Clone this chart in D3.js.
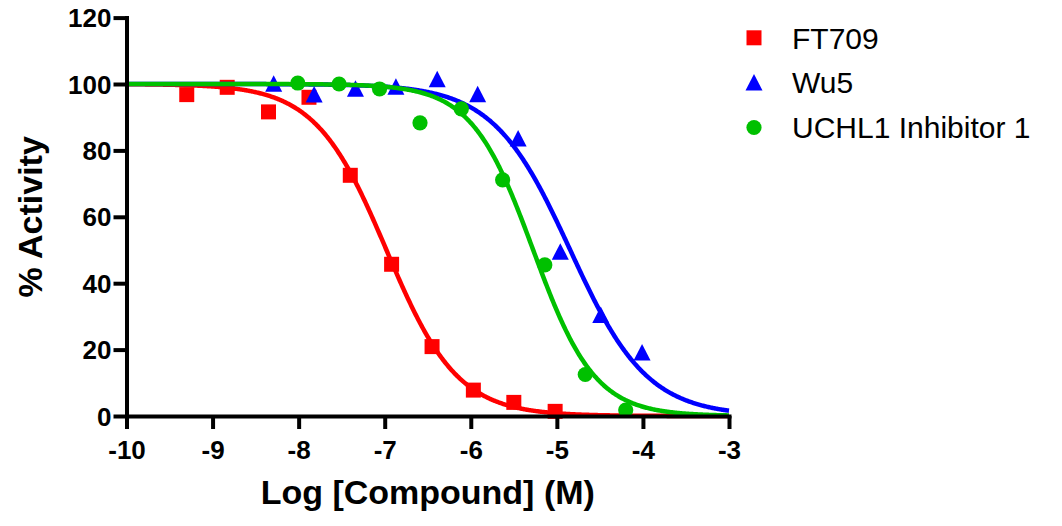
<!DOCTYPE html>
<html>
<head>
<meta charset="utf-8">
<script src="https://cdn.jsdelivr.net/npm/d3@7"></script>
<style>
  html, body { margin: 0; padding: 0; background: #fff; }
  svg { display: block; font-family: "Liberation Sans", Arial, Helvetica, sans-serif; }
</style>
</head>
<body>
<svg id="chart" width="1062" height="526"></svg>
<script>
// ---- Data ----
const seriesNames = ["FT709", "Wu5", "UCHL1 Inhibitor 1"];
const seriesColors = ["#FF0000", "#0000FF", "#00C000"];
const seriesShapes = ["square", "triangle", "circle"];

const ft709X = [-9.30, -8.83, -8.35, -7.88, -7.40, -6.92, -6.45, -5.97, -5.50, -5.02];
const ft709Y = [96.8, 99.0, 91.6, 96.0, 72.5, 45.7, 20.9, 7.8, 4.1, 1.4];
const wu5X = [-8.29, -7.82, -7.34, -6.87, -6.39, -5.92, -5.45, -4.96, -4.49, -4.01];
const wu5Y = [100.1, 96.8, 98.6, 99.2, 101.4, 96.9, 83.6, 49.5, 30.4, 19.1];
const uchlX = [-8.01, -7.53, -7.06, -6.59, -6.11, -5.63, -5.14, -4.67, -4.20];
const uchlY = [100.3, 100.0, 98.5, 88.3, 92.5, 71.1, 45.5, 12.5, 1.8];

// fitted dose-response parameters
const fitTop = [100, 100, 100];
const fitBottom = [0, 0, 0];
const fitLogIC50 = [-6.98, -4.845, -5.275];
const fitHill = [1.05, 0.97, 1.21];

const xTicks = [-10, -9, -8, -7, -6, -5, -4, -3];
const yTicks = [0, 20, 40, 60, 80, 100, 120];
const xTitle = "Log [Compound] (M)";
const yTitle = "% Activity";

// ---- Layout ----
const svg = d3.select("#chart");
const x = d3.scaleLinear().domain([-10, -3]).range([126.5, 729]);
const y = d3.scaleLinear().domain([0, 120]).range([416, 17.6]);

const seriesX = [ft709X, wu5X, uchlX];
const seriesY = [ft709Y, wu5Y, uchlY];

function symbolPath(shape) {
  if (shape === "square") return "M-7.5,-7.5H7.5V7.5H-7.5Z";
  if (shape === "triangle") return "M0,-8.5L8.5,8L-8.5,8Z";
  return d3.arc()({innerRadius: 0, outerRadius: 7.6, startAngle: 0, endAngle: 2 * Math.PI});
}

const plot = svg.append("g");
const line = d3.line().x(d => x(d[0])).y(d => y(d[1])).curve(d3.curveLinear);
const sampleX = d3.range(0, 701).map(i => -10 + i * 0.01);

seriesNames.forEach((name, i) => {
  const curve = sampleX.map(lx => [lx, fitBottom[i] + (fitTop[i] - fitBottom[i]) / (1 + Math.pow(10, (lx - fitLogIC50[i]) * fitHill[i]))]);
  plot.append("path")
    .attr("d", line(curve))
    .attr("fill", "none")
    .attr("stroke", seriesColors[i])
    .attr("stroke-width", 4.5);
  const pts = seriesX[i].map((v, j) => [v, seriesY[i][j]]);
  plot.selectAll(null).data(pts).enter().append("path")
    .attr("d", symbolPath(seriesShapes[i]))
    .attr("transform", d => `translate(${x(d[0])},${y(d[1])})`)
    .attr("fill", seriesColors[i]);
});

// ---- Axes ----
const fmt = d => String(d);
const xAxis = d3.axisBottom(x).tickValues(xTicks).tickSize(13).tickSizeOuter(0).tickPadding(12).tickFormat(fmt);
const yAxis = d3.axisLeft(y).tickValues(yTicks).tickSize(13).tickSizeOuter(0).tickPadding(2).tickFormat(fmt);

const gx = svg.append("g").attr("transform", `translate(0,${y(0)})`).call(xAxis);
const gy = svg.append("g").attr("transform", `translate(${x(-10)},0)`).call(yAxis);

[gx, gy].forEach(g => {
  g.select(".domain").attr("stroke", "#000").attr("stroke-width", 4).attr("stroke-linecap", "square");
  g.selectAll(".tick line").attr("stroke", "#000").attr("stroke-width", 4);
  g.selectAll(".tick text")
    .attr("fill", "#000")
    .attr("font-size", 26)
    .attr("font-weight", "bold")
    .attr("font-family", "'Liberation Sans', Arial, sans-serif");
});
gy.selectAll(".tick text").attr("dy", "0.35em");

// Axis titles
svg.append("text")
  .attr("x", (x(-10) + x(-3)) / 2)
  .attr("y", 504)
  .attr("text-anchor", "middle")
  .attr("font-size", 34)
  .attr("font-weight", "bold")
  .text(xTitle);

svg.append("text")
  .attr("transform", `translate(42,${(y(0) + y(120)) / 2}) rotate(-90)`)
  .attr("text-anchor", "middle")
  .attr("font-size", 34)
  .attr("font-weight", "bold")
  .text(yTitle);

// ---- Legend ----
const legendY = [37.8, 82.5, 127.5];
const legend = svg.append("g");
seriesNames.forEach((name, i) => {
  legend.append("path")
    .attr("d", symbolPath(seriesShapes[i]))
    .attr("transform", `translate(754,${legendY[i]})`)
    .attr("fill", seriesColors[i]);
  legend.append("text")
    .attr("x", 792)
    .attr("y", legendY[i] + 10.7)
    .attr("font-size", 30)
    .attr("fill", "#000")
    .text(name);
});
</script>
</body>
</html>
